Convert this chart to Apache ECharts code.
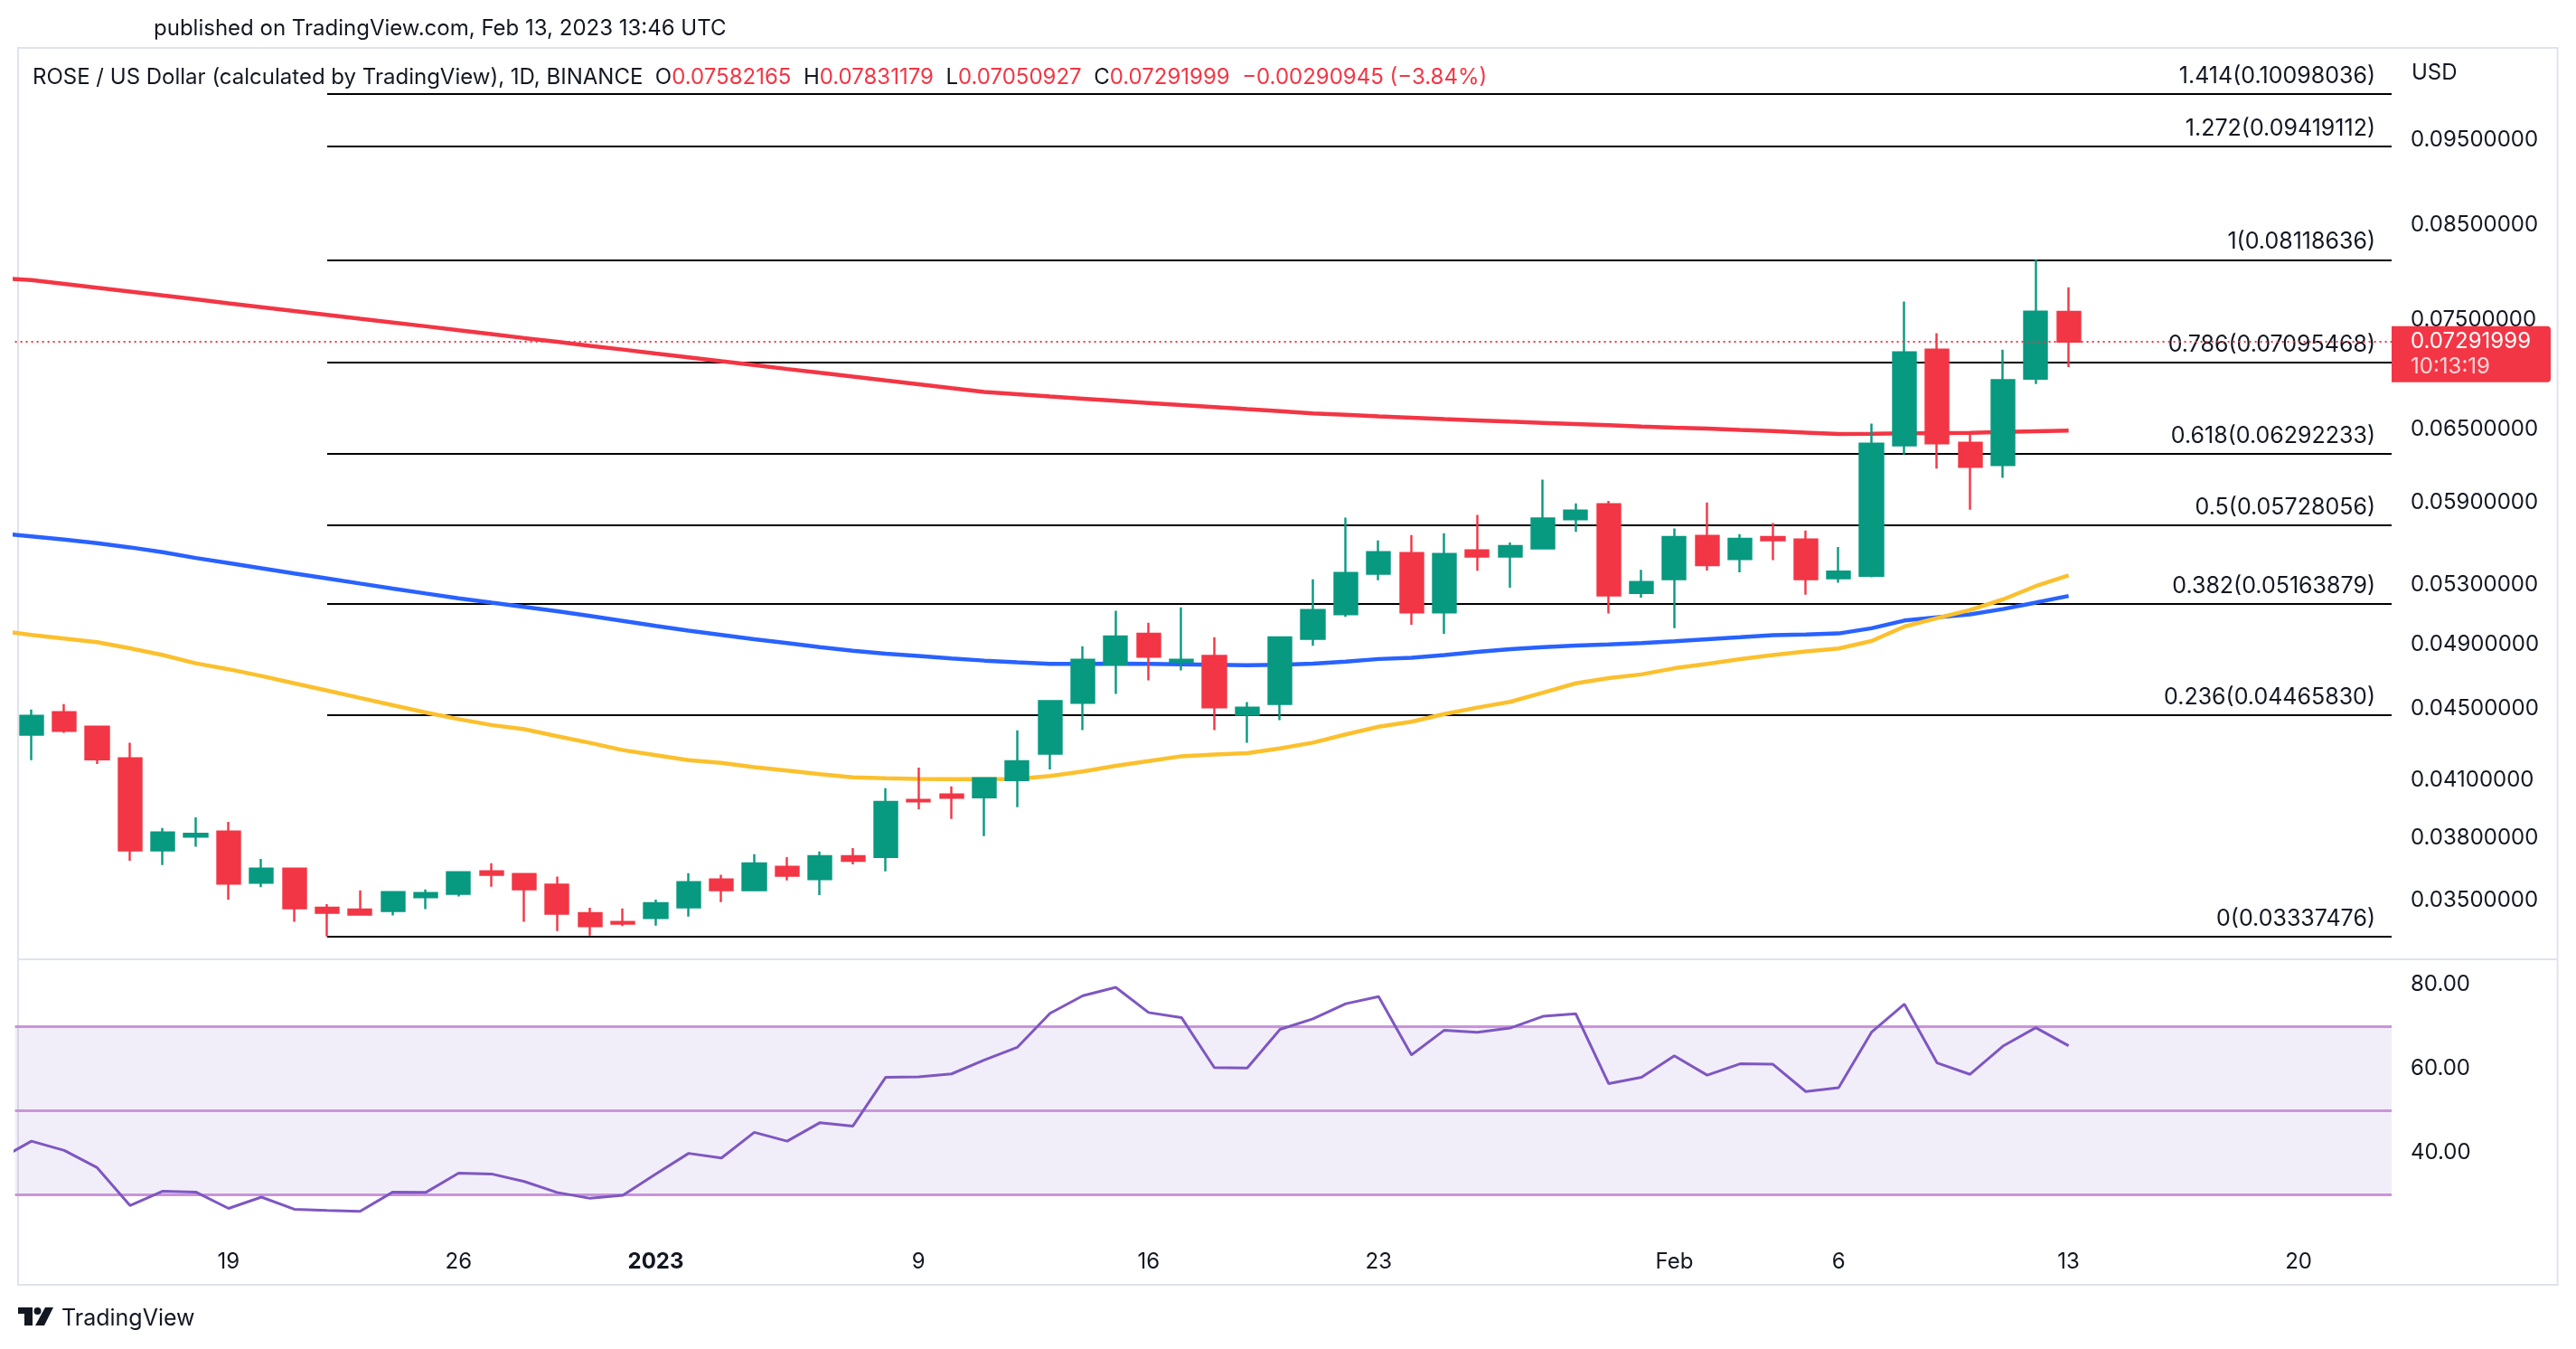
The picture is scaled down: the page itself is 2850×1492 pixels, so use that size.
<!DOCTYPE html>
<html>
<head>
<meta charset="utf-8">
<title>ROSE / US Dollar</title>
<script src="https://cdn.jsdelivr.net/npm/echarts@6/dist/echarts.min.js"></script>
<style>
  html, body { margin: 0; padding: 0; background: #fff; }
  #chart { width: 2850px; height: 1492px; }
</style>
</head>
<body>
<div id="chart"></div>
<script>
// daily candles, first day (Dec 12) only shows up as the start of the indicator lines
var dates = [
  '2022-12-12','2022-12-13','2022-12-14','2022-12-15','2022-12-16','2022-12-17','2022-12-18','2022-12-19',
  '2022-12-20','2022-12-21','2022-12-22','2022-12-23','2022-12-24','2022-12-25','2022-12-26','2022-12-27',
  '2022-12-28','2022-12-29','2022-12-30','2022-12-31','2023-01-01','2023-01-02','2023-01-03','2023-01-04',
  '2023-01-05','2023-01-06','2023-01-07','2023-01-08','2023-01-09','2023-01-10','2023-01-11','2023-01-12',
  '2023-01-13','2023-01-14','2023-01-15','2023-01-16','2023-01-17','2023-01-18','2023-01-19','2023-01-20',
  '2023-01-21','2023-01-22','2023-01-23','2023-01-24','2023-01-25','2023-01-26','2023-01-27','2023-01-28',
  '2023-01-29','2023-01-30','2023-01-31','2023-02-01','2023-02-02','2023-02-03','2023-02-04','2023-02-05',
  '2023-02-06','2023-02-07','2023-02-08','2023-02-09','2023-02-10','2023-02-11','2023-02-12','2023-02-13'
];
var opens = [null,
  0.04351,0.04481,0.04396,0.04217,0.03737,0.03805,0.03831,0.03581,0.03648,0.03466,
  0.03458,0.03451,0.03514,0.03530,0.03635,0.03623,0.03572,0.03441,0.03402,0.03419,
  0.03467,0.03597,0.03547,0.03657,0.03598,0.03708,0.03705,0.03993,0.04022,0.04007,
  0.04098,0.04243,0.04536,0.04772,0.04967,0.04788,0.04824,0.04466,0.04530,0.04934,
  0.05096,0.05374,0.05523,0.05108,0.05542,0.05498,0.05556,0.05774,0.05888,0.05241,
  0.05337,0.05648,0.05479,0.05641,0.05621,0.05343,0.05361,0.06363,0.07215,0.06384,
  0.06200,0.06945,0.07582165];
var closes = [null,
  0.04459,0.04372,0.04212,0.03737,0.03826,0.03819,0.03577,0.03648,0.03463,0.03443,
  0.03435,0.03537,0.03533,0.03631,0.03619,0.03551,0.03439,0.03383,0.03394,0.03486,
  0.03584,0.03547,0.03674,0.03615,0.03708,0.03686,0.03983,0.03986,0.04004,0.04108,
  0.04201,0.04546,0.04801,0.04950,0.04820,0.04801,0.04509,0.04508,0.04944,0.05125,
  0.05380,0.05529,0.05108,0.05516,0.05498,0.05574,0.05779,0.05840,0.05224,0.05316,
  0.05641,0.05436,0.05627,0.05616,0.05337,0.05390,0.06376,0.07189,0.06379,0.06186,
  0.06930,0.07582944,0.07291999];
var lows = [null,
  0.04207,0.04361,0.04186,0.03686,0.03666,0.03755,0.03503,0.03560,0.03402,0.03337476,
  0.03431,0.03431,0.03459,0.03517,0.03563,0.03402,0.03361,0.03341,0.03383,0.03385,
  0.03426,0.03491,0.03547,0.03592,0.03524,0.03669,0.03635,0.03945,0.03895,0.03808,
  0.03955,0.04156,0.04377,0.04590,0.04672,0.04734,0.04377,0.04305,0.04434,0.04889,
  0.05078,0.05329,0.05026,0.04967,0.05396,0.05277,0.05556,0.05678,0.05102,0.05209,
  0.05004,0.05398,0.05385,0.05472,0.05228,0.05311,0.05349,0.06286,0.06171,0.05847,
  0.06096,0.06895,0.07050927];
var highs = [null,
  0.04497,0.04529,0.04400,0.04304,0.03849,0.03903,0.03880,0.03695,0.03652,0.03482,
  0.03546,0.03540,0.03550,0.03635,0.03674,0.03626,0.03610,0.03466,0.03462,0.03503,
  0.03627,0.03619,0.03718,0.03704,0.03731,0.03748,0.04055,0.04166,0.04065,0.04112,
  0.04375,0.04550,0.04887,0.05119,0.05040,0.05143,0.04944,0.04541,0.04950,0.05335,
  0.05785,0.05614,0.05655,0.05669,0.05806,0.05600,0.06081,0.05895,0.05915,0.05402,
  0.05703,0.05902,0.05662,0.05745,0.05689,0.05567,0.06546,0.07685,0.07372,0.06461,
  0.07215,0.08118636,0.07831179];

// moving averages (red, blue, yellow) and RSI
var ma200 = [0.07925,
  0.07905,0.07866,0.07825,0.07786,0.07746,0.07707,0.07667,0.07629,0.07590,0.07552,
  0.07513,0.07476,0.07439,0.07400,0.07363,0.07325,0.07289,0.07251,0.07215,0.07178,
  0.07142,0.07105,0.07070,0.07033,0.06998,0.06964,0.06928,0.06894,0.06858,0.06824,
  0.06804,0.06783,0.06764,0.06745,0.06726,0.06707,0.06690,0.06672,0.06655,0.06635,
  0.06622,0.06609,0.06597,0.06585,0.06574,0.06563,0.06553,0.06543,0.06533,0.06522,
  0.06512,0.06503,0.06492,0.06482,0.06470,0.06458,0.06460,0.06463,0.06465,0.06468,
  0.06475,0.06481,0.06486];
var ma100 = [0.05669,
  0.05645,0.05621,0.05595,0.05564,0.05529,0.05487,0.05451,0.05413,0.05377,0.05342,
  0.05306,0.05271,0.05237,0.05204,0.05174,0.05145,0.05116,0.05085,0.05052,0.05019,
  0.04987,0.04959,0.04931,0.04907,0.04881,0.04858,0.04839,0.04824,0.04809,0.04795,
  0.04784,0.04774,0.04774,0.04776,0.04774,0.04772,0.04769,0.04766,0.04769,0.04776,
  0.04789,0.04805,0.04813,0.04830,0.04850,0.04867,0.04881,0.04891,0.04898,0.04906,
  0.04918,0.04931,0.04944,0.04958,0.04963,0.04969,0.05003,0.05054,0.05075,0.05095,
  0.05131,0.05175,0.05220];
var ma50 = [0.04988,
  0.04959,0.04936,0.04912,0.04873,0.04830,0.04778,0.04741,0.04699,0.04654,0.04610,
  0.04566,0.04522,0.04479,0.04440,0.04406,0.04382,0.04342,0.04304,0.04263,0.04235,
  0.04207,0.04192,0.04169,0.04150,0.04130,0.04113,0.04108,0.04105,0.04103,0.04103,
  0.04105,0.04121,0.04145,0.04176,0.04202,0.04229,0.04238,0.04246,0.04273,0.04305,
  0.04352,0.04396,0.04425,0.04470,0.04508,0.04542,0.04597,0.04654,0.04686,0.04709,
  0.04747,0.04775,0.04804,0.04830,0.04853,0.04872,0.04920,0.05014,0.05070,0.05125,
  0.05196,0.05288,0.05363];
var rsi = [38.4,
  42.8,40.6,36.5,27.5,30.9,30.7,26.8,29.5,26.6,26.3,
  26.1,30.7,30.6,35.2,35.0,33.2,30.6,29.2,29.9,35.0,
  39.9,38.8,44.9,42.8,47.2,46.4,58.0,58.1,58.8,62.1,
  65.1,73.2,77.4,79.4,73.4,72.2,60.3,60.2,69.4,71.9,
  75.5,77.2,63.3,69.2,68.7,69.7,72.5,73.1,56.5,58.0,
  63.1,58.5,61.2,61.1,54.6,55.5,68.7,75.4,61.4,58.7,
  65.4,69.8,65.5];

// fibonacci retracement from the Dec 22 low to the Feb 12 high
var fibRatios = ['0', '0.236', '0.382', '0.5', '0.618', '0.786', '1', '1.272', '1.414'];
var fibPrices = [0.03337476, 0.0446583, 0.05163879, 0.05728056, 0.06292233, 0.07095468, 0.08118636, 0.09419112, 0.10098036];
var fibStart = 10;

var priceTicks = [0.035, 0.038, 0.041, 0.045, 0.049, 0.053, 0.059, 0.065, 0.075, 0.085, 0.095];
var rsiTicks = [40, 60, 80];
var rsiLevels = [30, 50, 70];
var timeTicks = [7, 14, 20, 28, 35, 42, 51, 56, 63, 70];
var timeLabels = ['19', '26', '2023', '9', '16', '23', 'Feb', '6', '13', '20'];
var countdown = '10:13:19';

var FONT = 'Inter, Roboto, "Noto Sans", sans-serif';
var INK = '#131722';
var UP = '#089981', DOWN = '#f23645';
var X_MIN = 0.5, X_MAX = 72.83;
var HIDDEN = { color: 'rgba(0,0,0,0)', width: 0, opacity: 1 };

var candleData = [];
for (var i = 0; i < dates.length; i++) {
  if (opens[i] != null) candleData.push([i, opens[i], closes[i], lows[i], highs[i]]);
}
function pairs(arr) { return arr.map(function (v, k) { return [k, v]; }); }

var last = dates.length - 1;
var chg = closes[last] - closes[last - 1];
var pct = chg / closes[last - 1] * 100;
function sgn(v, d) { return (v < 0 ? '\u2212' : '+') + Math.abs(v).toFixed(d); }

var headerText =
  '{d|ROSE / US Dollar (calculated by TradingView), 1D, BINANCE  O}{r|' + opens[last].toFixed(8) + '}' +
  '{d|  H}{r|' + highs[last].toFixed(8) + '}' +
  '{d|  L}{r|' + lows[last].toFixed(8) + '}' +
  '{d|  C}{r|' + closes[last].toFixed(8) + '}' +
  '{r|  ' + sgn(chg, 8) + ' (' + sgn(pct, 2) + '%)}';

var axisLabelStyle = { show: true, position: 'end', distance: 21, formatter: '{b}', color: INK, opacity: 1, fontSize: 24, fontFamily: FONT };

var option = {
  animation: false,
  backgroundColor: '#fff',
  textStyle: { fontFamily: FONT },
  grid: [
    { left: 16.6, right: 204, top: 55, bottom: 431 },
    { left: 16.6, right: 204, top: 1061, bottom: 122 }
  ],
  xAxis: [
    { gridIndex: 0, type: 'value', min: X_MIN, max: X_MAX, show: false },
    {
      gridIndex: 1, type: 'value', min: X_MIN, max: X_MAX,
      axisLine: { show: false }, axisTick: { show: false }, splitLine: { show: false },
      axisLabel: {
        customValues: timeTicks,
        margin: 14,
        fontSize: 24,
        color: INK,
        fontFamily: FONT,
        formatter: function (v) {
          var k = timeTicks.indexOf(Math.round(v));
          if (k < 0) return '';
          return timeLabels[k] === '2023' ? '{b|2023}' : timeLabels[k];
        },
        rich: { b: { fontWeight: 'bold', fontSize: 24, color: INK, fontFamily: FONT } }
      }
    }
  ],
  yAxis: [
    { gridIndex: 0, type: 'log', min: 0.032387, max: 0.10698, show: false },
    { gridIndex: 1, type: 'value', min: 19.6, max: 86.06, show: false }
  ],
  series: [
    {
      name: 'MA 200', type: 'line', data: pairs(ma200), showSymbol: false, symbol: 'none', z: 3,
      lineStyle: { color: '#f23645', width: 4.5 },
      markLine: {
        silent: true, symbol: ['none', 'none'], z: 6, precision: 10,
        data: [{ yAxis: closes[last], lineStyle: { color: DOWN, width: 2, type: [2, 4] }, label: { show: false } }]
      }
    },
    { name: 'MA 100', type: 'line', data: pairs(ma100), showSymbol: false, symbol: 'none', z: 3, lineStyle: { color: '#2962ff', width: 4.5 } },
    {
      name: 'MA 50', type: 'line', data: pairs(ma50), showSymbol: false, symbol: 'none', z: 3,
      lineStyle: { color: '#fbc02d', width: 4.5 },
      markLine: {
        silent: true, symbol: ['none', 'none'], precision: 10,
        lineStyle: HIDDEN,
        label: axisLabelStyle,
        data: priceTicks.map(function (v) { return { yAxis: v, name: v.toFixed(8) }; })
      }
    },
    {
      name: 'ROSEUSD', type: 'candlestick', z: 4,
      encode: { x: 0, y: [1, 2, 3, 4] },
      data: candleData,
      barWidth: 25.6,
      itemStyle: { color: UP, color0: DOWN, borderColor: UP, borderColor0: DOWN, borderWidth: 2.4 },
      markLine: {
        silent: true, symbol: ['none', 'none'], z: 2, precision: 10,
        lineStyle: { color: '#000', width: 2, type: 'solid' },
        label: { position: 'insideEndTop', formatter: '{b}', distance: [18, 7], color: INK, fontSize: 25, fontFamily: FONT },
        data: fibPrices.map(function (p, k) {
          return [{ coord: [fibStart, p], name: fibRatios[k] + '(' + p.toFixed(8) + ')' }, { coord: [X_MAX, p] }];
        })
      }
    },
    {
      name: 'RSI', type: 'line', xAxisIndex: 1, yAxisIndex: 1, data: pairs(rsi), showSymbol: false, symbol: 'none', z: 3,
      lineStyle: { color: '#7e57c2', width: 3 },
      markArea: {
        silent: true,
        itemStyle: { color: 'rgba(126,87,194,0.1)' },
        data: [[{ yAxis: rsiLevels[0] }, { yAxis: rsiLevels[2] }]]
      },
      markLine: {
        silent: true, symbol: ['none', 'none'], z: 1, precision: 10,
        data: rsiLevels.map(function (v) {
          return { yAxis: v, lineStyle: { color: '#c994d9', width: 3, type: 'solid' }, label: { show: false } };
        }).concat(rsiTicks.map(function (v) {
          return { yAxis: v, name: v.toFixed(2), lineStyle: HIDDEN, label: axisLabelStyle };
        }))
      }
    }
  ],
  graphic: [
    { id: 'frame', type: 'rect', z: 0, silent: true, shape: { x: 20, y: 53, width: 2809.6, height: 1368 }, style: { fill: 'none', stroke: '#e0e3eb', lineWidth: 2 } },
    { id: 'sep', type: 'line', z: 0, silent: true, shape: { x1: 20, y1: 1061, x2: 2829.6, y2: 1061 }, style: { stroke: '#e0e3eb', lineWidth: 2 } },
    { id: 'pub', type: 'text', x: 170, y: 32, style: { text: 'published on TradingView.com, Feb 13, 2023 13:46 UTC', fill: INK, fontSize: 24, fontFamily: FONT, verticalAlign: 'middle' } },
    {
      id: 'head', type: 'text', x: 36, y: 86, z: 10,
      style: {
        text: headerText, verticalAlign: 'middle',
        rich: {
          d: { fill: INK, fontSize: 24, fontFamily: FONT },
          r: { fill: DOWN, fontSize: 24, fontFamily: FONT }
        }
      }
    },
    { id: 'usd', type: 'text', x: 2668, y: 81, style: { text: 'USD', fill: INK, fontSize: 24, fontFamily: FONT, verticalAlign: 'middle' } },
    { id: 'logoT', type: 'polygon', shape: { points: [[20, 1446], [36, 1446], [36, 1466], [27, 1466], [27, 1453], [20, 1453]] }, style: { fill: INK } },
    { id: 'logoDot', type: 'circle', shape: { cx: 41.5, cy: 1450, r: 4 }, style: { fill: INK } },
    { id: 'logoSlash', type: 'polygon', shape: { points: [[50, 1446], [59, 1446], [49, 1466], [39, 1466]] }, style: { fill: INK } },
    { id: 'tv', type: 'text', x: 68, y: 1458, style: { text: 'TradingView', fill: INK, fontSize: 25, fontFamily: FONT, verticalAlign: 'middle' } }
  ]
};

var chart = echarts.init(document.getElementById('chart'));
chart.setOption(option);

// last price tag on the price scale, placed through the price axis
var yPx = chart.convertToPixel({ yAxisIndex: 0 }, closes[last]);
var xRight = 2850 - 204;
chart.setOption({
  graphic: [
    { id: 'tagBox', type: 'rect', z: 20, shape: { x: xRight, y: yPx - 17, width: 176, height: 62, r: [0, 4, 4, 0] }, style: { fill: DOWN } },
    { id: 'tagPrice', type: 'text', z: 21, x: xRight + 21, y: yPx, style: { text: closes[last].toFixed(8), fill: '#fff', fontSize: 24, fontFamily: FONT, verticalAlign: 'middle' } },
    { id: 'tagTime', type: 'text', z: 21, x: xRight + 21, y: yPx + 28, style: { text: countdown, fill: 'rgba(255,255,255,0.8)', fontSize: 24, fontFamily: FONT, verticalAlign: 'middle' } }
  ]
});
</script>
</body>
</html>
